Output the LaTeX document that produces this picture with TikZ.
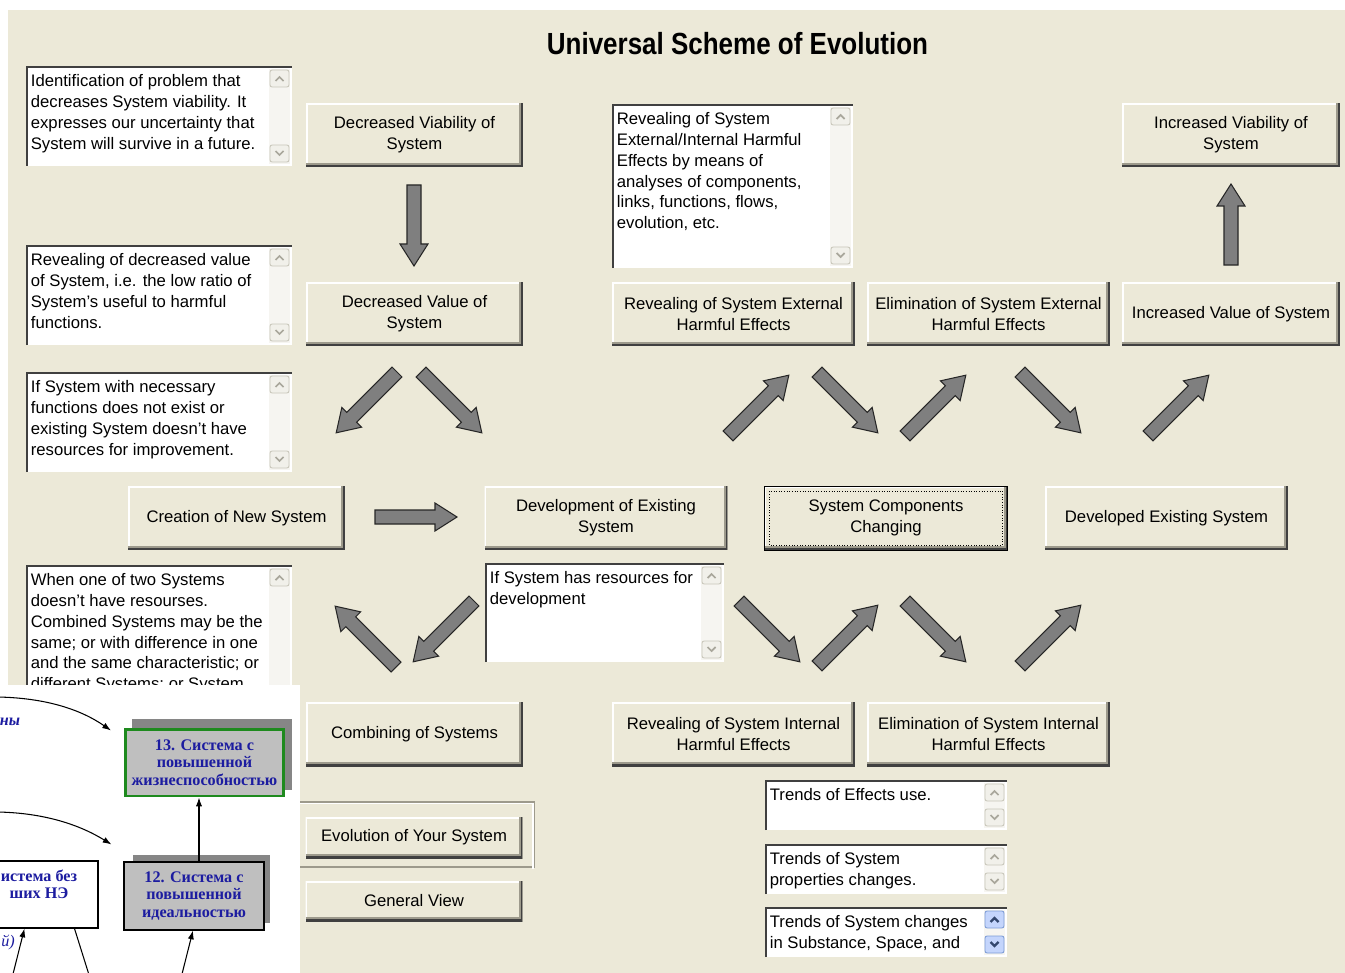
\documentclass[tikz,border=0pt]{standalone}
\usepackage{fontspec}
\setmainfont{Liberation Sans}
\newfontfamily\rufont{Liberation Serif}
\newfontfamily\headfont[FakeStretch=0.85]{Liberation Sans}
\usepackage{tikz}
\usetikzlibrary{calc,positioning,arrows.meta}
\definecolor{winbg}{HTML}{ECE9D8}
\definecolor{edgedark}{HTML}{404040}
\definecolor{edgemid}{HTML}{9D9A8C}
\definecolor{arrfill}{HTML}{7F7F7F}
\definecolor{arrline}{HTML}{262626}
\definecolor{trackbg}{HTML}{F6F5F1}
\definecolor{sbbtn}{HTML}{F1F0EA}
\definecolor{sbedge}{HTML}{C8C6BA}
\definecolor{sbchev}{HTML}{A9A79C}
\definecolor{sbblue}{HTML}{C4D5FC}
\definecolor{sbblueedge}{HTML}{7C9BD6}
\definecolor{sbbluechev}{HTML}{33476E}
\definecolor{rublue}{HTML}{1C1CA0}
\definecolor{rugreen}{HTML}{1E8A1E}
\colorlet{rugray}{gray!50}
\colorlet{rushadow}{gray!95}

\newcommand\uifont{\fontsize{9.5}{11.8}\selectfont}
% raised 3d edge of a windows button
\newcommand\bevel{%
  \draw[white,line width=2pt] (path picture bounding box.south west) |- (path picture bounding box.north east);
  \draw[edgemid,line width=4pt] (path picture bounding box.south west) -| (path picture bounding box.north east);
  \draw[edgedark,line width=2pt] (path picture bounding box.south west) -| (path picture bounding box.north east);}

\tikzset{
  btn/.style={rectangle, fill=winbg, inner sep=0pt, align=center, font=\uifont,
    minimum width=4.34cm, minimum height=1.28cm, path picture={\bevel}},
  widebtn/.style={btn, minimum width=4.86cm},
  focusbtn/.style={widebtn, draw=black, line width=0.5pt,
    path picture={\bevel
      \draw[black,densely dotted,line width=0.5pt] ($(path picture bounding box.south west)+(0.1cm,0.1cm)$)
        rectangle ($(path picture bounding box.north east)+(-0.1cm,-0.1cm)$);}},
  memotext/.style={anchor=north west, align=left, inner sep=2pt, font=\uifont},
  sbplain/.style={draw=sbedge, fill=sbbtn, line width=0.5pt, rounded corners=1.2pt},
  sbplainchev/.style={draw=sbchev, line width=1pt},
  sbfocus/.style={draw=sbblueedge, fill=sbblue, line width=0.5pt, rounded corners=1.2pt},
  sbfocuschev/.style={draw=sbbluechev, line width=1.3pt},
  pics/bigarr/.style={code={
    \draw[arrline, fill=arrfill, line width=0.6pt, line join=miter]
      (0,-7) -- (#1-22,-7) -- (#1-22,-14) -- (#1,0) -- (#1-22,14) -- (#1-22,7) -- (0,7) -- cycle;}},
  pics/bigarr/.default=86,
  rubox/.style={rectangle, inner sep=0pt, align=center, text=rublue,
    font=\rufont\bfseries\fontsize{9.2}{9.9}\selectfont},
  rutext/.style={inner sep=0pt, align=center, text=rublue,
    font=\rufont\bfseries\fontsize{9.2}{9.9}\selectfont},
  ruarr/.style={-{Latex[length=5pt,width=3.5pt]}, line width=0.6pt},
}

% sunken memo field with its scroll bar
\newcommand\memobox[7][sbplain]{%
  \fill[white] (#3,#4) rectangle (#5,#6);
  \draw[edgedark,line width=1.3pt] (#3+1,#6) |- (#5,#4+1);
  \fill[trackbg] (#5-23,#4+3) rectangle (#5-2,#6-2);
  \draw[#1] (#5-22,#4+4) rectangle (#5-3,#4+21);
  \draw[#1] (#5-22,#6-21) rectangle (#5-3,#6-4);
  \draw[#1chev] (#5-16.5,#4+15) -- (#5-12.5,#4+11) -- (#5-8.5,#4+15);
  \draw[#1chev] (#5-16.5,#6-15) -- (#5-12.5,#6-11) -- (#5-8.5,#6-15);
  \node[memotext] (#2) at (#3+1,#4+5) {#7};}

\begin{document}
\begin{tikzpicture}[x=0.02cm,y=-0.02cm]
\useasboundingbox (0,0) rectangle (1345,973);
% window
\fill[white] (0,0) rectangle (1345,973);
\fill[winbg] (8,10) rectangle (1345,973);
\node[font=\headfont\bfseries\fontsize{17.4}{20}\selectfont] (title) at (737.5,44) {Universal Scheme of Evolution};

% buttons
\node[btn] (dviab) at (414.5,135) {Decreased Viability of\\System};
\node[btn] (dval) at (414.5,314) {Decreased Value of\\System};
\node[btn] (creat) at (236.5,518) {Creation of New System};
\node[widebtn] (devex) at (606,518) {Development of Existing\\System};
\node[focusbtn] (compch) at (886,518) {System Components\\Changing};
\node[widebtn] (devdone) at (1166.5,518) {Developed Existing System};
\node[widebtn] (revext) at (733.5,314) {Revealing of System External\\Harmful Effects};
\node[widebtn] (elimext) at (988.5,314) {Elimination of System External\\Harmful Effects};
\node[btn, minimum width=4.36cm] (incval) at (1231,314) {Increased Value of System};
\node[btn, minimum width=4.36cm] (incviab) at (1231,135) {Increased Viability of\\System};
\node[btn] (combsys) at (414.5,734) {Combining of Systems};
\node[widebtn] (revint) at (733.5,734) {Revealing of System Internal\\Harmful Effects};
\node[widebtn] (elimint) at (988.5,734) {Elimination of System Internal\\Harmful Effects};
% group frame round the first lower button
\draw[edgemid,line width=0.8pt] (296,802) rectangle (534,867);
\draw[white,line width=0.6pt] (297,803.5) -| (533,868.5);
\node[btn, minimum height=0.82cm] (evolsys) at (414,837.5) {Evolution of Your System};
\node[btn, minimum height=0.8cm] (genview) at (414,901) {General View};

% memo fields
\memobox{idprob}{26}{66}{292}{166}{Identification of problem that\\decreases System viability. It\\expresses our uncertainty that\\System will survive in a future.}
\memobox{lowratio}{26}{245}{292}{345}{Revealing of decreased value\\of System, i.e. the low ratio of\\System's useful to harmful\\functions.}
\memobox{noexist}{26}{372}{292}{472}{If System with necessary\\functions does not exist or\\existing System doesn't have\\resources for improvement.}
\memobox{combtxt}{26}{565}{292}{720}{When one of two Systems\\doesn't have resourses.\\Combined Systems may be the\\same; or with difference in one\\and the same characteristic; or\\different Systems; or System}
\memobox{harmtxt}{612}{104}{853}{268}{Revealing of System\\External/Internal Harmful\\Effects by means of\\analyses of components,\\links, functions, flows,\\evolution, etc.}
\memobox{resdev}{485}{563}{724}{662}{If System has resources for\\development}
\memobox{trendeff}{765}{780}{1007}{830}{Trends of Effects use.}
\memobox{trendprop}{765}{844}{1007}{894}{Trends of System\\properties changes.}
\memobox[sbfocus]{trendsub}{765}{907}{1007}{957}{Trends of System changes\\in Substance, Space, and}

% block arrows
\pic[rotate=-90] at (414,185) {bigarr=81};
\pic[rotate=90] at (1231,265) {bigarr=81};
\pic[rotate=-135] at (397,372) {bigarr};
\pic[rotate=-45] at (421,372) {bigarr};
\pic at (375,517) {bigarr=82};
\pic[rotate=45] at (728,436) {bigarr};
\pic[rotate=-45] at (817,372) {bigarr};
\pic[rotate=45] at (905,436) {bigarr};
\pic[rotate=-45] at (1020,372) {bigarr};
\pic[rotate=45] at (1148,436) {bigarr};
\pic[rotate=135] at (396,667) {bigarr};
\pic[rotate=-135] at (474,601) {bigarr};
\pic[rotate=-45] at (739,601) {bigarr};
\pic[rotate=45] at (817,666) {bigarr};
\pic[rotate=-45] at (905,601) {bigarr};
\pic[rotate=45] at (1020,666) {bigarr};

% pasted slide in the corner
\begin{scope}
\clip (0,685) rectangle (300,973);
\fill[white] (0,685) rectangle (300,973);
\fill[rushadow] (132,719) rectangle (292,790);
\node[rubox, fill=rugray, draw=rugreen, line width=1.7pt, minimum width=3.16cm, minimum height=1.34cm] (b13) at (204.5,762.5) {13. Система с\\повышенной\\жизнеспособностью};
\fill[rushadow] (133,855) rectangle (270,923);
\node[rubox, fill=rugray, draw=black, line width=0.6pt, minimum width=2.8cm, minimum height=1.36cm] (b12) at (194,896) {12. Система с\\повышенной\\идеальностью};
\node[rubox, fill=white, draw=black, line width=0.6pt, minimum width=2.52cm, minimum height=1.34cm] (b11) at (35,894.5) {};
\node[rutext] (b11txt) at (39,884) {истема без\\ших НЭ};
\node[rutext, font=\rufont\bfseries\itshape\fontsize{9.2}{10}\selectfont] (lbl1) at (10,722) {ны};
\node[rutext, font=\rufont\itshape\fontsize{9.2}{10}\selectfont] (lbl2) at (8,942) {й)};
\draw[ruarr] ([xshift=0.1cm]b12.north) -- ([xshift=0.1cm]b12.north |- b13.south);
\coordinate (c1) at (-2,697);
\coordinate (c2) at (-2,812);
\draw[ruarr] (c1) .. controls (45,698) and (80,709) .. ($(b13.north west)+(-13,3)$);
\draw[ruarr] (c2) .. controls (45,813) and (80,825) .. ($(b12.north west)+(-12,-17)$);
\coordinate (l1) at (12,978);
\coordinate (l2) at (90,978);
\coordinate (l3) at (181,978);
\draw[ruarr] (l1) -- ($(b11.south west)+(53,0)$);
\draw[line width=0.6pt] ($(b11.south west)+(103,0)$) -- (l2);
\draw[ruarr] (l3) -- ($(b12.south)+(-1,0)$);
\end{scope}
\end{tikzpicture}
\end{document}
